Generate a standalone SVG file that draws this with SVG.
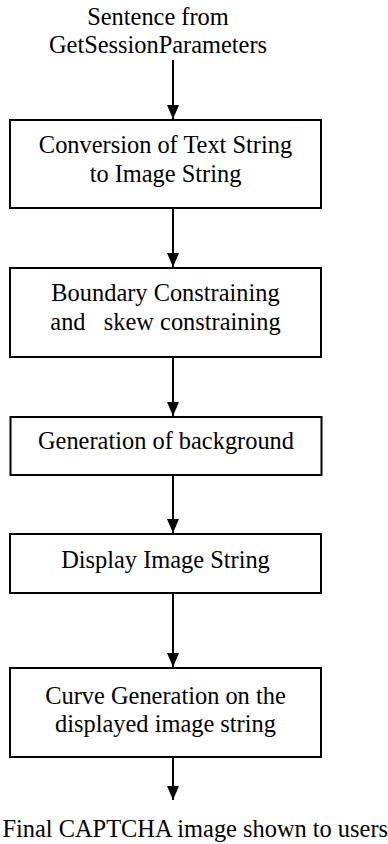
<svg xmlns="http://www.w3.org/2000/svg" width="388" height="844" viewBox="0 0 388 844">
<style>
text{font-size:24.4px;fill:#000;text-anchor:middle}
.box{fill:#fff;stroke:#000;stroke-width:2}
.c line{stroke:#000;stroke-width:2;marker-end:url(#ah)}
</style>
<defs>
<marker id="ah" markerWidth="14" markerHeight="12" refX="14" refY="6" orient="auto" markerUnits="userSpaceOnUse">
<path d="M0,0 L14,6 L0,12 Z" fill="#000"/>
</marker>
</defs>
<rect width="388" height="844" fill="#fff"/>
<g font-family="Liberation Serif, Times New Roman, serif">
<g id="input">
<text x="158" y="25">Sentence from</text>
<text x="158" y="53">GetSessionParameters</text>
</g>
<g id="n1">
<rect class="box" x="10" y="120" width="311" height="88"/>
<text x="165.5" y="153">Conversion of Text String</text>
<text x="165.5" y="182">to Image String</text>
</g>
<g id="n2">
<rect class="box" x="10" y="268" width="311" height="89"/>
<text x="165.5" y="301">Boundary Constraining</text>
<text x="165.5" y="330" xml:space="preserve">and   skew constraining</text>
</g>
<g id="n3">
<rect class="box" x="10.5" y="417" width="311" height="58"/>
<text x="166" y="449">Generation of background</text>
</g>
<g id="n4">
<rect class="box" x="10" y="534" width="311" height="59"/>
<text x="165.5" y="568">Display Image String</text>
</g>
<g id="n5">
<rect class="box" x="10" y="668" width="311" height="89"/>
<text x="165.5" y="704">Curve Generation on the</text>
<text x="165.5" y="732">displayed image string</text>
</g>
<g id="output">
<text x="388" y="837" text-anchor="end" style="text-anchor:end">Final CAPTCHA image shown to users</text>
</g>
</g>
<g class="c" id="connectors">
<line x1="173" y1="60" x2="173" y2="119"/>
<line x1="173" y1="209" x2="173" y2="267"/>
<line x1="173" y1="358" x2="173" y2="416"/>
<line x1="173" y1="476" x2="173" y2="533"/>
<line x1="173" y1="594" x2="173" y2="667"/>
<line x1="173" y1="758" x2="173" y2="800"/>
</g>
</svg>
